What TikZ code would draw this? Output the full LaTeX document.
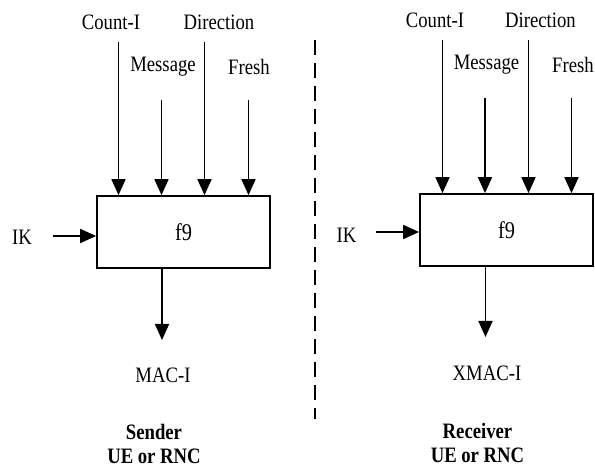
\documentclass[tikz,border=0pt]{standalone}
\usepackage{fontspec}
\setmainfont{Liberation Serif}
\newfontfamily\condfont[FakeStretch=0.85]{Liberation Serif}
\usetikzlibrary{arrows.meta}
\begin{document}
\begin{tikzpicture}[x=1pt,y=-1pt,
  lbl/.style={font=\condfont\fontsize{22}{25}\selectfont, inner sep=0pt},
  side/.style={font=\condfont\fontsize{22}{24}\selectfont\bfseries, inner sep=0pt, align=center},
  fbox/.style={draw, line width=1.7pt, minimum width=173pt, minimum height=72pt,
    inner sep=0pt, font=\condfont\fontsize{24}{26}\selectfont},
  arr/.style={line width=1.7pt, -{Triangle[length=16pt,width=14pt]}},
  divider/.style={line width=1.9pt, dash pattern=on 15pt off 8pt}]
\useasboundingbox (0,0) rectangle (595,470);

% ---- sender side ----
\node[fbox] (fa) at (183.5,232) {f9};
\node[lbl] (ciA) at (111,22) {Count-I};
\node[lbl] (diA) at (219,22) {Direction};
\node[lbl] (meA) at (163,67) {Message};
\node[lbl] (frA) at (249,67) {Fresh};
\coordinate (ciAt) at (118.5,42);
\coordinate (diAt) at (204.5,42);
\coordinate (meAt) at (161.5,100);
\coordinate (frAt) at (248.5,100);
\foreach \c in {ciAt,diAt,meAt,frAt}
  \draw[arr] (\c) -- (\c |- fa.north);
\node[lbl] (ikA) at (22,237) {IK};
\coordinate (ikAs) at (53,236);
\draw[arr] (ikAs) -- (ikAs -| fa.west);
\coordinate (outA) at (162,340);
\draw[arr] (outA |- fa.south) -- (outA);
\node[lbl] (macA) at (163,375) {MAC-I};
\node[side] (sndA) at (154,444) {Sender\\UE or RNC};

% ---- divider ----
\coordinate (dv1) at (315,40);
\coordinate (dv2) at (315,419);
\draw[divider] (dv1) -- (dv2);

% ---- receiver side ----
\node[fbox] (fb) at (506.5,230) {f9};
\node[lbl] (ciB) at (435,20) {Count-I};
\node[lbl] (diB) at (540.5,20) {Direction};
\node[lbl] (meB) at (486.5,65) {Message};
\node[lbl] (frB) at (573,65) {Fresh};
\coordinate (ciBt) at (442.5,40);
\coordinate (diBt) at (528.5,40);
\coordinate (meBt) at (485,98);
\coordinate (frBt) at (571.5,98);
\foreach \c in {ciBt,diBt,meBt,frBt}
  \draw[arr] (\c) -- (\c |- fb.north);
\node[lbl] (ikB) at (346.5,235) {IK};
\coordinate (ikBs) at (376,232);
\draw[arr] (ikBs) -- (ikBs -| fb.west);
\coordinate (outB) at (485.5,337);
\draw[arr] (outB |- fb.south) -- (outB);
\node[lbl] (macB) at (487,373) {XMAC-I};
\node[side] (rcvB) at (477.5,443) {Receiver\\UE or RNC};
\end{tikzpicture}
\end{document}
